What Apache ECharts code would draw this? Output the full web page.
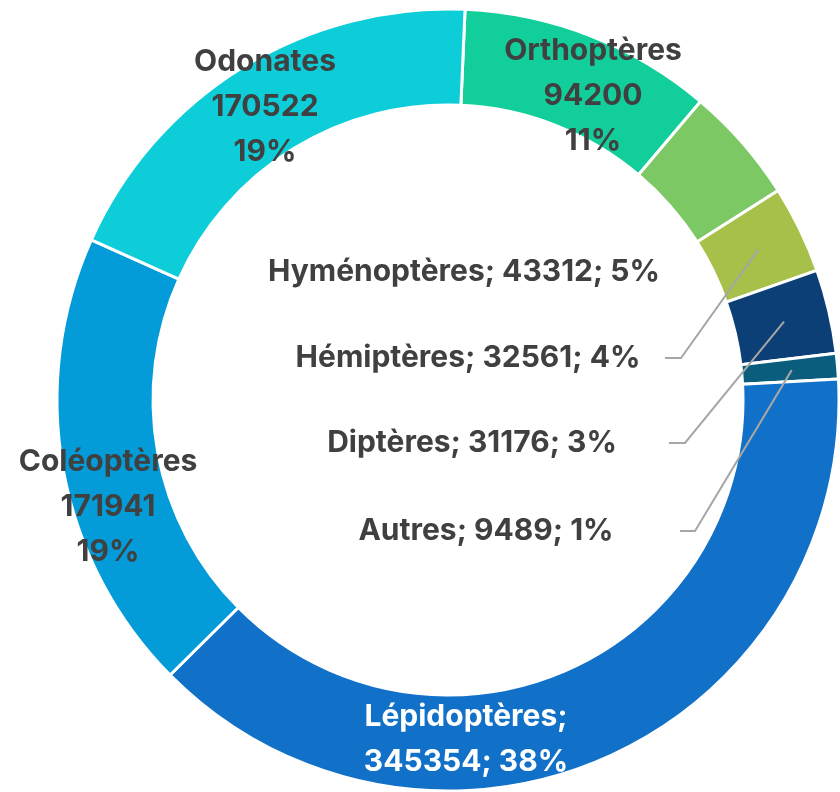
<!DOCTYPE html>
<html>
<head>
<meta charset="utf-8">
<script src="https://cdn.jsdelivr.net/npm/echarts@6/dist/echarts.min.js"></script>
<style>
  html,body{margin:0;padding:0;background:#fff;}
  #main{width:840px;height:792px;}
</style>
</head>
<body>
<div id="main"></div>
<script>
// données : ordre horaire depuis le haut
let ordres=['Orthoptères','Hyménoptères','Hémiptères','Diptères','Autres','Lépidoptères','Coléoptères','Odonates']
let effectifs=[94200,43312,32561,31176,9489,345354,171941,170522]
let couleurs=['#12CE9A','#7CC864','#A7C04A','#0C3F75','#0B5D7E','#1170C8','#039CD8','#0DCED8']

// mise en forme des étiquettes (position du centre du bloc de texte)
let styleEtiq=['empile','ligne','ligne','ligne','ligne','lepido','empile','empile']
let posEtiq=[[593,96],[464,272],[468,358],[472,443],[486,531],[466,739],[108,507],[265,107]]
let finLigne=[null,null,[665,681],[669,685],[680,695],null,null,null]

const cx=448, cy=400, rOut=391, rIn=295, rAncre=345, depart=87.5

var myChart=echarts.init(document.getElementById('main'))

// angle médian de chaque part (pour accrocher les lignes de rappel)
let total=effectifs.reduce((a,b)=>a+b,0)
let cumul=0
let angleMilieu=effectifs.map(v=>{
  let a=depart-(cumul+v/2)/total*360
  cumul+=v
  return a*Math.PI/180
})

// lignes de rappel
let lignes=[]
finLigne.forEach((f,i)=>{
  if(!f) return
  let y=posEtiq[i][1]
  let ancre=[cx+rAncre*Math.cos(angleMilieu[i]),cy-rAncre*Math.sin(angleMilieu[i])]
  lignes.push({
    type:'polyline',
    z:10,
    shape:{points:[[f[0],y],[f[1],y],ancre]},
    style:{stroke:'#A6A6A6',lineWidth:2,fill:null}
  })
})

let data=ordres.map((nom,i)=>({
  value:effectifs[i],
  name:nom,
  itemStyle:{color:couleurs[i]},
  label:{color:styleEtiq[i]=='lepido'?'#ffffff':'#404040'}
}))

option={
  animation:false,
  graphic:lignes,
  series:[
    {
      type:'pie',
      center:[cx,cy],
      radius:[rIn,rOut],
      startAngle:depart,
      clockwise:true,
      percentPrecision:0,
      avoidLabelOverlap:false,
      itemStyle:{borderColor:'#ffffff',borderWidth:3},
      emphasis:{disabled:true},
      label:{
        show:true,
        position:'outside',
        fontFamily:'Inter',
        fontWeight:'bold',
        fontSize:30,
        lineHeight:45,
        align:'center',
        formatter:function(p){
          let s=styleEtiq[p.dataIndex]
          if(s=='empile') return p.name+'\n'+p.value+'\n'+p.percent+'%'
          if(s=='lepido') return p.name+';\n'+p.value+'; '+p.percent+'%'
          return p.name+'; '+p.value+'; '+p.percent+'%'
        }
      },
      labelLine:{show:false},
      labelLayout:function(params){
        let pos=posEtiq[params.dataIndex]
        return {x:pos[0],y:pos[1],align:'center',verticalAlign:'middle'}
      },
      data:data
    }
  ]
}

myChart.setOption(option)
</script>
</body>
</html>
